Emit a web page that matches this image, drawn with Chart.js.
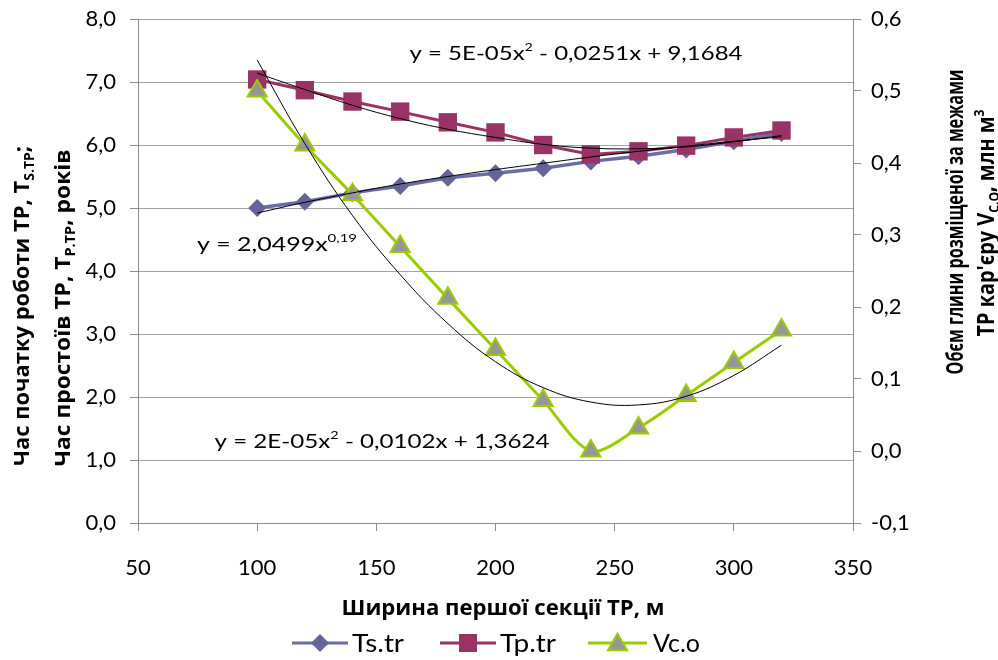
<!DOCTYPE html>
<html>
<head>
<meta charset="utf-8">
<script src="https://cdn.jsdelivr.net/npm/chart.js@4.4.1/dist/chart.umd.min.js"></script>
<style>
  html, body { margin: 0; padding: 0; background: #fff; }
  #wrap { width: 998px; height: 660px; position: relative; }
</style>
</head>
<body>
<div id="wrap"><canvas id="c"></canvas></div>
<script>
// ---- data ----
const widthsM   = [100, 120, 140, 160, 180, 200, 220, 240, 260, 280, 300, 320];
const tsValues  = [5.00, 5.10, 5.24, 5.35, 5.48, 5.55, 5.63, 5.74, 5.82, 5.93, 6.06, 6.19];
const tpValues  = [7.04, 6.87, 6.69, 6.53, 6.36, 6.20, 6.00, 5.85, 5.90, 5.99, 6.12, 6.23];
const vcValues  = [0.500, 0.425, 0.356, 0.284, 0.212, 0.141, 0.070, 0.000, 0.032, 0.077, 0.123, 0.168];
const tsTrend   = [4.92, 5.09, 5.24, 5.38, 5.50, 5.61, 5.71, 5.81, 5.90, 5.98, 6.06, 6.13];
const tpTrend   = [7.14, 6.88, 6.63, 6.42, 6.25, 6.12, 6.01, 5.95, 5.94, 5.97, 6.05, 6.15];
const vcTrend   = [0.543, 0.427, 0.327, 0.245, 0.177, 0.124, 0.088, 0.068, 0.064, 0.076, 0.105, 0.147];
const xTickValues  = [50, 100, 150, 200, 250, 300, 350];
const yTickValues  = [0, 1, 2, 3, 4, 5, 6, 7, 8];
const y1TickValues = [-0.1, 0, 0.1, 0.2, 0.3, 0.4, 0.5, 0.6];
const seriesNames = ['Ts.tr', 'Tp.tr', 'Vc.o'];

// ---- styles ----
const C_TS = '#646499', C_TS_LINE = '#6b6ba5';
const C_TP = '#993366';
const C_VC = '#99cc00', C_VC_FILL = '#969696';
const C_AXIS = '#8c8c8c', C_GRID = '#a3a3a3';
const NUM_FONT = 'Lato, "Open Sans", sans-serif';
const CYR_FONT = '"Open Sans", "Noto Sans", sans-serif';

const xy = (xs, ys) => xs.map((x, i) => ({ x: x, y: ys[i] }));
const fmt1 = v => (Math.abs(v) < 1e-9 ? 0 : v).toFixed(1).replace('.', ',');

function drawRich(ctx, segs, cx, cy, o) {
  const fontOf = (sz) => (o.bold ? 'bold ' : '') + sz + 'px ' + o.family;
  let total = 0;
  const parts = segs.map(s => {
    const sz = (s.sub || s.sup) ? Math.round(o.size * 0.62) : o.size;
    ctx.font = fontOf(sz);
    const w = ctx.measureText(s.t).width;
    total += w;
    return { t: s.t, sub: s.sub, sup: s.sup, sz: sz, w: w };
  });
  const sx = o.targetW ? o.targetW / total : 1;
  ctx.save();
  ctx.translate(cx, cy);
  if (o.rotate) ctx.rotate(o.rotate);
  ctx.scale(sx, 1);
  ctx.textBaseline = 'alphabetic';
  ctx.textAlign = 'left';
  ctx.fillStyle = '#000';
  let x = -total / 2;
  const baseY = o.size * 0.36;
  for (const p of parts) {
    ctx.font = fontOf(p.sz);
    let y = baseY;
    if (p.sub) y += o.size * 0.22;
    if (p.sup) y -= o.size * 0.45;
    ctx.fillText(p.t, x, y);
    x += p.w;
  }
  ctx.restore();
}

function marker(ctx, kind, x, y) {
  ctx.save();
  ctx.beginPath();
  if (kind === 'diamond') {
    const r = 9;
    ctx.moveTo(x - r, y); ctx.lineTo(x, y - r); ctx.lineTo(x + r, y); ctx.lineTo(x, y + r);
    ctx.closePath();
    ctx.fillStyle = C_TS; ctx.fill();
  } else if (kind === 'square') {
    const h = 9;
    ctx.rect(x - h, y - h, 2 * h, 2 * h);
    ctx.fillStyle = C_TP; ctx.fill();
  } else {
    const r = 11;
    ctx.moveTo(x, y - r * 0.85);
    ctx.lineTo(x + r * 0.87, y + r * 0.65);
    ctx.lineTo(x - r * 0.87, y + r * 0.65);
    ctx.closePath();
    ctx.fillStyle = C_VC_FILL; ctx.fill();
    ctx.lineWidth = 2; ctx.strokeStyle = C_VC; ctx.stroke();
  }
  ctx.restore();
}

const decorPlugin = {
  id: 'decor',
  afterDraw(chart) {
    const ctx = chart.ctx;
    // axis titles
    drawRich(ctx, [{ t: 'Ширина першої секції ТР, м' }], 503, 607,
      { size: 22, bold: true, family: CYR_FONT, targetW: 323 });
    drawRich(ctx, [{ t: 'Час початку роботи ТР, Т' }, { t: 'S.TP', sub: true }, { t: ';' }], 21, 306,
      { size: 22, bold: true, family: CYR_FONT, targetW: 320, rotate: -Math.PI / 2 });
    drawRich(ctx, [{ t: 'Час простоїв ТР, Т' }, { t: 'P.TP', sub: true }, { t: ', років' }], 62, 308,
      { size: 22, bold: true, family: CYR_FONT, targetW: 317, rotate: -Math.PI / 2 });
    drawRich(ctx, [{ t: 'Обєм глини розміщеної за межами' }], 955, 222,
      { size: 23, bold: true, family: CYR_FONT, targetW: 305, rotate: -Math.PI / 2 });
    drawRich(ctx, [{ t: 'ТР кар\'єру V' }, { t: 'C.O', sub: true }, { t: ', млн м' }, { t: '3', sup: true }], 986, 223,
      { size: 23, bold: true, family: CYR_FONT, targetW: 227, rotate: -Math.PI / 2 });
    // trendline equations
    drawRich(ctx, [{ t: 'y = 5E-05x' }, { t: '2', sup: true }, { t: ' - 0,0251x + 9,1684' }], 576, 53,
      { size: 20, family: NUM_FONT, targetW: 333 });
    drawRich(ctx, [{ t: 'y = 2,0499x' }, { t: '0,19', sup: true }], 277, 244,
      { size: 20, family: NUM_FONT, targetW: 160 });
    drawRich(ctx, [{ t: 'y = 2E-05x' }, { t: '2', sup: true }, { t: ' - 0,0102x + 1,3624' }], 382, 441,
      { size: 20, family: NUM_FONT, targetW: 335 });
    // legend
    const ly = 643;
    const items = [
      { x0: 292, x1: 348, tx: 352, tw: 52, color: C_TS_LINE, kind: 'diamond' },
      { x0: 440, x1: 496, tx: 500, tw: 56, color: C_TP, kind: 'square' },
      { x0: 588, x1: 647, tx: 653, tw: 47, color: C_VC, kind: 'triangle' }
    ];
    items.forEach((it, i) => {
      ctx.save();
      ctx.beginPath();
      ctx.moveTo(it.x0, ly); ctx.lineTo(it.x1, ly);
      ctx.lineWidth = 3; ctx.strokeStyle = it.color; ctx.stroke();
      ctx.restore();
      marker(ctx, it.kind, (it.x0 + it.x1) / 2, ly);
      drawRich(ctx, [{ t: seriesNames[i] }], it.tx + it.tw / 2, ly,
        { size: 25, family: NUM_FONT, targetW: it.tw });
    });
  }
};

Chart.defaults.font.family = NUM_FONT;
Chart.defaults.font.size = 22;
Chart.defaults.color = '#000';

const noPad = s => { s.paddingTop = 0; s.paddingBottom = 0; s.paddingLeft = 0; s.paddingRight = 0; };

new Chart(document.getElementById('c'), {
  type: 'line',
  data: {
    datasets: [
      { label: 'trend Ts', data: xy(widthsM, tsTrend), yAxisID: 'y', borderColor: '#000', borderWidth: 1, pointRadius: 0, tension: 0.4 },
      { label: 'trend Tp', data: xy(widthsM, tpTrend), yAxisID: 'y', borderColor: '#000', borderWidth: 1, pointRadius: 0, tension: 0.4 },
      { label: 'trend Vc', data: xy(widthsM, vcTrend), yAxisID: 'y1', borderColor: '#000', borderWidth: 1, pointRadius: 0, tension: 0.4 },
      { label: seriesNames[2], data: xy(widthsM, vcValues), yAxisID: 'y1', borderColor: C_VC, borderWidth: 3,
        pointStyle: 'triangle', pointRadius: 11, pointBackgroundColor: C_VC_FILL, pointBorderColor: C_VC, pointBorderWidth: 2, tension: 0.3 },
      { label: seriesNames[1], data: xy(widthsM, tpValues), yAxisID: 'y', borderColor: C_TP, borderWidth: 3,
        pointStyle: 'rect', pointRadius: 13, pointBackgroundColor: C_TP, pointBorderColor: C_TP, pointBorderWidth: 0, tension: 0 },
      { label: seriesNames[0], data: xy(widthsM, tsValues), yAxisID: 'y', borderColor: C_TS_LINE, borderWidth: 3.5,
        pointStyle: 'rectRot', pointRadius: 9, pointBackgroundColor: C_TS, pointBorderColor: C_TS, pointBorderWidth: 0, tension: 0 }
    ]
  },
  options: {
    responsive: true,
    maintainAspectRatio: false,
    animation: false,
    layout: { padding: { top: 19, left: 0, right: 0, bottom: 0 } },
    plugins: { legend: { display: false }, tooltip: { enabled: false }, title: { display: false } },
    scales: {
      x: {
        type: 'linear', position: 'bottom', min: 50, max: 350,
        afterBuildTicks: s => { s.ticks = xTickValues.map(v => ({ value: v })); },
        ticks: { padding: 24, color: '#000', font: { size: 22 }, callback: v => String(v), maxRotation: 0 },
        grid: { drawOnChartArea: false, drawTicks: true, tickLength: 8, color: C_AXIS, tickColor: C_AXIS, lineWidth: 1 },
        border: { color: C_AXIS, width: 1 },
        afterFit: s => { s.height = 137; noPad(s); }
      },
      y: {
        position: 'left', min: 0, max: 8,
        afterBuildTicks: s => { s.ticks = yTickValues.map(v => ({ value: v })); },
        ticks: { padding: 14, color: '#000', font: { size: 22 }, callback: v => fmt1(v) },
        grid: { drawOnChartArea: true, color: C_GRID, tickColor: C_AXIS, tickLength: 8, lineWidth: 1 },
        border: { color: C_AXIS, width: 1 },
        afterFit: s => { s.width = 138; noPad(s); }
      },
      y1: {
        position: 'right', min: -0.1, max: 0.6,
        afterBuildTicks: s => { s.ticks = y1TickValues.map(v => ({ value: v })); },
        ticks: { padding: 10, color: '#000', font: { size: 22 }, callback: v => fmt1(v) },
        grid: { drawOnChartArea: false, color: C_AXIS, tickColor: C_AXIS, tickLength: 8, lineWidth: 1 },
        border: { color: C_AXIS, width: 1 },
        afterFit: s => { s.width = 145; noPad(s); }
      }
    }
  },
  plugins: [decorPlugin]
});
</script>
</body>
</html>
